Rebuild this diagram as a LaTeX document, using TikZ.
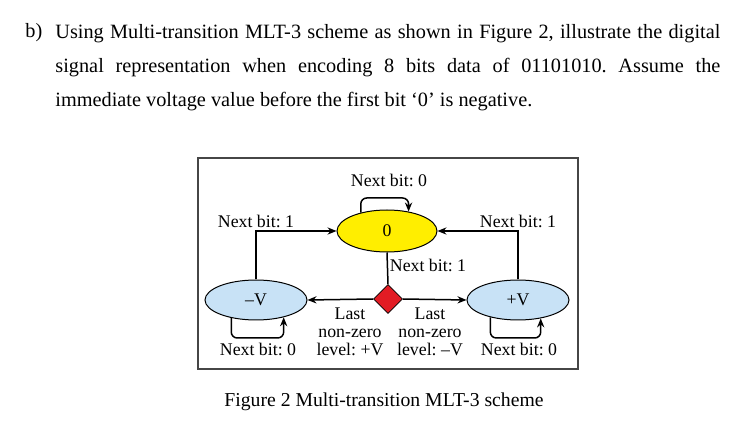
\documentclass[tikz,border=0pt]{standalone}
\usepackage{fontspec}
\setmainfont{Liberation Serif}
\usepackage{xcolor}
\usetikzlibrary{arrows.meta,positioning,shapes.geometric}
\definecolor{stateyellow}{RGB}{255,238,0}
\definecolor{stateblue}{RGB}{200,226,246}
\definecolor{switchred}{RGB}{226,28,36}
\definecolor{framegray}{RGB}{70,70,70}
\frenchspacing
\tikzset{
  state/.style={draw=black, line width=0.5pt, ellipse, inner sep=0pt, align=center,
    minimum width=51pt, minimum height=20pt, font=\fontsize{8.9}{9}\selectfont},
  switch/.style={draw=black, line width=0.4pt, diamond, fill=switchred, inner sep=0pt,
    minimum width=14.5pt, minimum height=14.5pt},
  flow/.style={draw=black, line width=0.75pt, -{Stealth[length=4.5pt,width=3.6pt]}},
  plain/.style={draw=black, line width=0.75pt},
  selfloop/.style={draw=black, line width=0.75pt, rounded corners=3pt, -{Stealth[length=4.5pt,width=3.6pt]}},
  lbl/.style={font=\fontsize{8.9}{9}\selectfont, inner sep=0pt, align=center},
  body/.style={font=\fontsize{10.15}{17}\selectfont, inner sep=0pt}
}
\begin{document}
\begin{tikzpicture}[x=0.5pt,y=-0.5pt]
  \useasboundingbox[fill=white] (0,0) rectangle (751,427);
  % question text
  \node[body, anchor=base west] (item) at (25,38) {b)};
  \node[body, anchor=north west, text width=332.5pt, align=justify] (question) at (55,24)
    {Using Multi-transition MLT-3 scheme as shown in Figure 2, illustrate the digital\linebreak
     signal representation when encoding 8 bits data of 01101010. Assume the\linebreak
     immediate voltage value before the first bit `0' is negative.};

  % frame
  \draw[framegray, line width=0.75pt] (198,158) rectangle (578,369);

  % states
  \node[state, fill=stateyellow, minimum width=50pt, minimum height=21pt] (zero) at (387,231) {0};
  \node[state, fill=stateblue] (neg) at (256,300) {--V};
  \node[state, fill=stateblue] (pos) at (518,300) {+V};
  \node[switch] (dia) at (388,299) {};

  \coordinate (ztop) at (387,198);
  \coordinate (nbot) at (256,338);
  \coordinate (pbot) at (518,338);

  % transitions
  \draw[selfloop] (zero.145) |- (ztop) -| (zero.42);
  \draw[flow] (neg.north) |- (zero.west);
  \draw[flow] (pos.north) |- (zero.east);
  \draw[plain] (zero.south) -- (dia.north);
  \draw[flow] (dia.west) -- (neg.east);
  \draw[flow] (dia.east) -- (pos.west);
  \draw[selfloop] (neg.216) |- (nbot) -| (neg.328);
  \draw[selfloop] (pos.212) |- (pbot) -| (pos.321);

  % labels
  \node[lbl] (loopzero) at (389,180) {Next bit: 0};
  \node[lbl] (leftone) at (256,221) {Next bit: 1};
  \node[lbl] (rightone) at (518,221) {Next bit: 1};
  \node[lbl] (midone) at (428,265) {Next bit: 1};
  \node[lbl] (negzero) at (258,349) {Next bit: 0};
  \node[lbl] (poszero) at (519,349) {Next bit: 0};
  \node[lbl] (lastpos) at (350,332) {Last\\non-zero\\level: +V};
  \node[lbl] (lastneg) at (430,332) {Last\\non-zero\\level: --V};

  % caption
  \node[body, anchor=base, font=\fontsize{9.85}{12}\selectfont] (caption) at (384,407) {Figure 2 Multi-transition MLT-3 scheme};
\end{tikzpicture}
\end{document}
